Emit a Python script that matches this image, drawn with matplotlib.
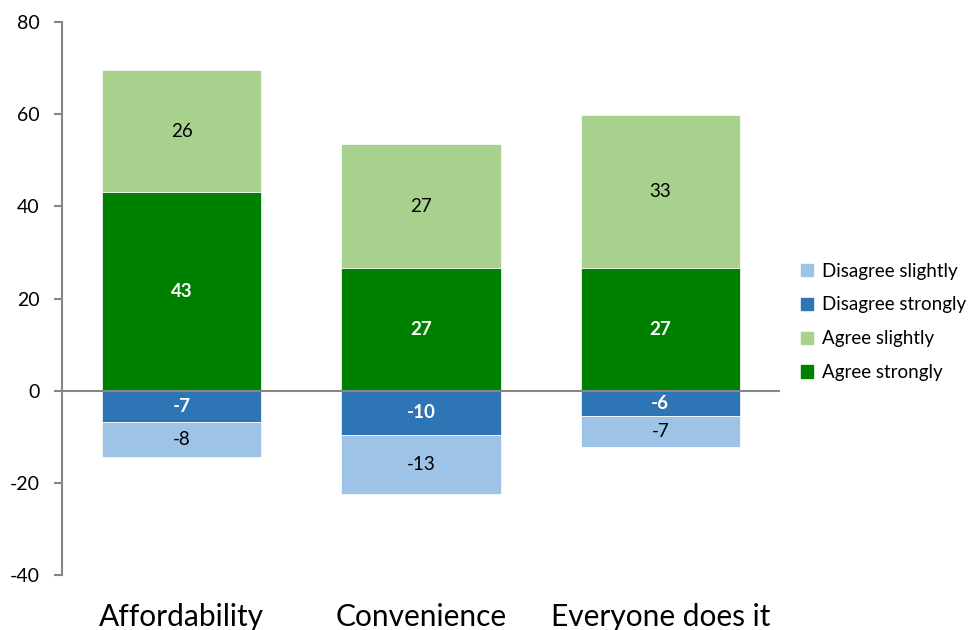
import matplotlib
matplotlib.use("Agg")
import matplotlib.pyplot as plt
from matplotlib.patches import Patch
import numpy as np

plt.rcParams['font.family'] = ['Lato', 'DejaVu Sans']

categories = ["Affordability", "Convenience", "Everyone does it"]
agree_strongly = [43.1, 26.6, 26.6]
agree_slightly = [26.4, 26.9, 33.2]
disagree_strongly = [-6.8, -9.6, -5.6]
disagree_slightly = [-7.6, -12.8, -6.7]
yticks = [-40, -20, 0, 20, 40, 60, 80]

c_as = "#008000"
c_asl = "#a9d18e"
c_ds = "#2e75b6"
c_dsl = "#9dc3e6"

fig = plt.figure(figsize=(9.75, 6.3), dpi=100)
ax = fig.add_axes([62 / 975, 1 - 575 / 630, (780 - 62) / 975, (575 - 22) / 630])

x = np.arange(len(categories))
w = 2 / 3
as_ = np.array(agree_strongly)
asl = np.array(agree_slightly)
ds = np.array(disagree_strongly)
dsl = np.array(disagree_slightly)

ax.bar(x, as_, w, color=c_as, edgecolor="white", linewidth=0.5, zorder=2)
ax.bar(x, asl, w, bottom=as_, color=c_asl, edgecolor="white", linewidth=0.5, zorder=2)
ax.bar(x, ds, w, color=c_ds, edgecolor="white", linewidth=0.5, zorder=2)
ax.bar(x, dsl, w, bottom=ds, color=c_dsl, edgecolor="white", linewidth=0.5, zorder=2)

fs = 13.5
for i in range(len(categories)):
    ax.text(x[i], as_[i] / 2, f"{as_[i]:.0f}", ha="center", va="center",
            color="white", fontweight="bold", fontsize=fs, zorder=4)
    ax.text(x[i], as_[i] + asl[i] / 2, f"{asl[i]:.0f}", ha="center", va="center",
            color="black", fontsize=fs, zorder=4)
    ax.text(x[i], ds[i] / 2, f"{ds[i]:.0f}", ha="center", va="center",
            color="white", fontweight="bold", fontsize=fs, zorder=4)
    ax.text(x[i], ds[i] + dsl[i] / 2, f"{dsl[i]:.0f}", ha="center", va="center",
            color="black", fontsize=fs, zorder=4)

ax.axhline(0, color="#868686", linewidth=1.5, zorder=3)

ax.set_xlim(-0.5, 2.5)
ax.set_ylim(-40, 80)
ax.set_yticks(yticks)
ax.set_yticklabels([str(v) for v in yticks], fontsize=14)
ax.set_xticks(x)
ax.set_xticklabels(categories, fontsize=21.5)
ax.tick_params(axis="x", length=0, pad=20)
ax.tick_params(axis="y", length=6, width=1.5, color="#868686", direction="out", pad=10)

for s in ["top", "right", "bottom"]:
    ax.spines[s].set_visible(False)
ax.spines["left"].set_color("#868686")
ax.spines["left"].set_linewidth(1.5)

handles = [Patch(color=c_dsl, label="Disagree slightly"),
           Patch(color=c_ds, label="Disagree strongly"),
           Patch(color=c_asl, label="Agree slightly"),
           Patch(color=c_as, label="Agree strongly")]
fig.legend(handles=handles, loc="center left", bbox_to_anchor=(0.808, 0.489),
           frameon=False, fontsize=13.5, handlelength=0.65, handleheight=0.65,
           handletextpad=0.45, labelspacing=0.9, borderpad=0.2)

fig.savefig("out.png", dpi=100)
